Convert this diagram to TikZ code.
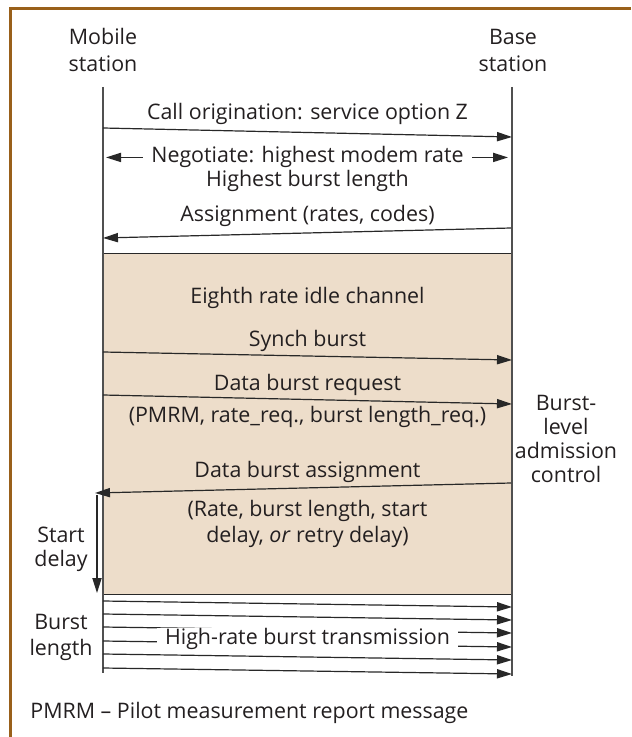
\documentclass[tikz,border=0pt]{standalone}
\usepackage{fontspec}
\setmainfont{Open Sans}
\usetikzlibrary{arrows.meta}
\definecolor{ink}{RGB}{35,31,32}
\definecolor{rulegray}{RGB}{40,40,40}
\definecolor{lifegray}{RGB}{80,80,80}
\definecolor{framebrown}{RGB}{153,96,26}
\definecolor{idlefill}{RGB}{237,221,202}
\begin{document}
\begin{tikzpicture}[x=0.5pt,y=-0.5pt,
  lbl/.style={font=\fontsize{10.7}{13}\selectfont, text=ink, inner sep=0pt, anchor=base},
  msg/.style={draw=rulegray, line width=0.6pt, -{Triangle[length=7.5pt,width=4.6pt]}},
  life/.style={draw=lifegray, line width=0.8pt},
  framerule/.style={draw=framebrown, line width=1.3pt}]
\useasboundingbox (0,0) rectangle (631,737);

% outer frame (top and left rules)
\coordinate (ftl) at (10.5,8.5);
\coordinate (ftr) at (631,8.5);
\coordinate (fbl) at (10.5,737);
\draw[framerule] (ftr) -- (ftl) -- (fbl);

% idle channel period
\node[fill=idlefill, draw=rulegray, line width=0.7pt, inner sep=0pt,
      minimum width=204.5pt, minimum height=170.5pt, anchor=north west]
      (idle) at (103,253) {};

% lifelines
\coordinate (mtop) at (103,87);
\coordinate (mbot) at (103,673);
\coordinate (btop) at (512,87);
\coordinate (bbot) at (512,676);
\draw[life] (mtop) -- (mbot);
\draw[life] (btop) -- (bbot);

% station headings
\node[lbl] (mob1) at (103,45) {Mobile};
\node[lbl] (mob2) at (103,72) {station};
\node[lbl] (bas1) at (513,45) {Base};
\node[lbl] (bas2) at (513,72) {station};

% call set-up
\node[lbl] (call) at (307.5,120) {Call origination: service option Z};
\coordinate (c1a) at (103,128);
\coordinate (c1b) at (512,137);
\draw[msg] (c1a) -- (c1b);

\node[lbl, inner xsep=4pt] (neg) at (307.5,163) {Negotiate: highest modem rate};
\node[lbl] (neg2) at (307.5,187) {Highest burst length};
\coordinate (negL) at (106,157);
\coordinate (negR) at (508,157);
\draw[msg] (neg.west) -- (neg.west -| negL);
\draw[msg] (neg.east) -- (neg.east -| negR);

\node[lbl] (asg) at (307.5,222) {Assignment (rates, codes)};
\coordinate (c2a) at (511,228);
\coordinate (c2b) at (103,238);
\draw[msg] (c2a) -- (c2b);

% idle channel exchange
\node[lbl] (eighth) at (307.5,303) {Eighth rate idle channel};

\node[lbl] (synch) at (307.5,346) {Synch burst};
\coordinate (s1a) at (103,352);
\coordinate (s1b) at (512,360);
\draw[msg] (s1a) -- (s1b);

\node[lbl] (req) at (307.5,390) {Data burst request};
\node[lbl] (req2) at (307.5,422) {(PMRM, rate\_req., burst length\_req.)};
\coordinate (r1a) at (103,395);
\coordinate (r1b) at (512,404);
\draw[msg] (r1a) -- (r1b);

\node[lbl] (adm1) at (566,410) {Burst-};
\node[lbl] (adm2) at (566,434) {level};
\node[lbl] (adm3) at (566,458) {admission};
\node[lbl] (adm4) at (566,482) {control};

\node[lbl] (dba) at (307.5,477) {Data burst assignment};
\node[lbl] (dba2) at (307.5,516) {(Rate, burst length, start};
\node[lbl] (dba3) at (307.5,542) {delay, \textit{or} retry delay)};
\coordinate (a1a) at (511,483);
\coordinate (a1b) at (95,493);
\draw[msg] (a1a) -- (a1b);

% start delay
\node[lbl] (sd1) at (61,542) {Start};
\node[lbl] (sd2) at (61,566) {delay};
\coordinate (sdtop) at (97,495);
\coordinate (sdbot) at (97,593);
\draw[msg] (sdtop) -- (sdbot);

% high-rate burst
\foreach \i/\yy in {1/601,2/614,3/627,4/641,5/654,6/668}{
  \coordinate (h\i a) at (103,\yy);
  \coordinate (h\i b) at (512,\yy+6);
  \draw[msg] (h\i a) -- (h\i b);
}
\node[lbl, fill=white, inner xsep=4pt, inner ysep=0pt] (hrb) at (307.5,644) {High-rate burst transmission};

\node[lbl] (bl1) at (61,629) {Burst};
\node[lbl] (bl2) at (61,655) {length};

% footnote
\node[lbl, anchor=base west] (note) at (30,718) {PMRM – Pilot measurement report message};
\end{tikzpicture}
\end{document}
